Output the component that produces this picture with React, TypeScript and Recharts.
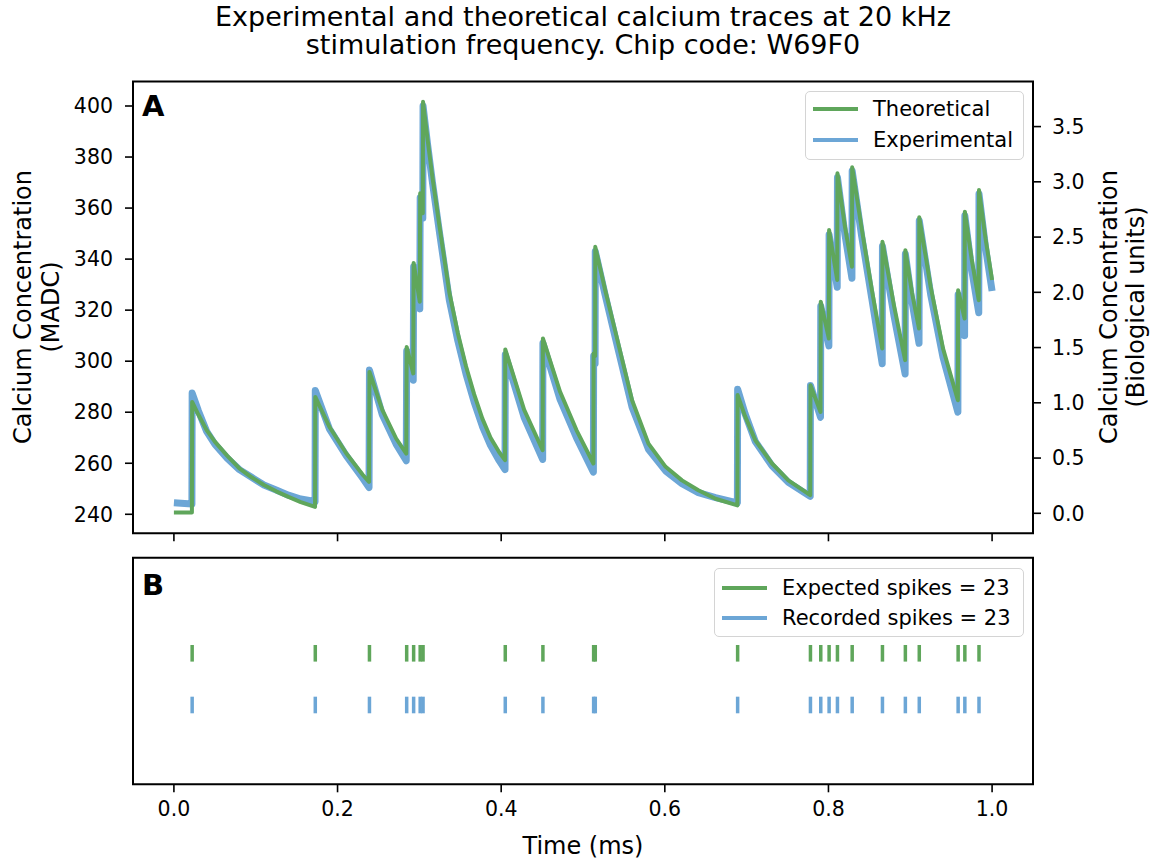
import { LineChart, Line, XAxis, YAxis, ReferenceArea, ScatterChart, Scatter } from 'recharts';

// calcium traces (time in ms, concentration in MADC)
const timePoints = [
  0, 0.022,
  0.0223, 0.03, 0.04, 0.05, 0.065, 0.08, 0.095, 0.11, 0.125, 0.14, 0.155, 0.1725,
  0.1728, 0.19, 0.2106, 0.231, 0.2385,
  0.239, 0.2547, 0.2716, 0.284,
  0.2845, 0.2925,
  0.293, 0.3005,
  0.301, 0.3042,
  0.3045, 0.31, 0.316, 0.325, 0.3366, 0.347, 0.357, 0.367, 0.377, 0.387, 0.3976, 0.4047,
  0.405, 0.428, 0.4507,
  0.451, 0.472, 0.492, 0.5127,
  0.513, 0.5148,
  0.515, 0.527, 0.54, 0.56, 0.58, 0.601, 0.621, 0.641, 0.662, 0.6887,
  0.689, 0.698, 0.7106, 0.731, 0.751, 0.7777,
  0.778, 0.7903,
  0.7906, 0.8005,
  0.8008, 0.8107,
  0.811, 0.82, 0.8287,
  0.829, 0.8406, 0.853, 0.8657,
  0.866, 0.88, 0.8937,
  0.894, 0.902, 0.9107,
  0.911, 0.925, 0.94, 0.9582,
  0.9585, 0.9664,
  0.9667, 0.975, 0.9837,
  0.984, 0.992, 1.0,
];

const theoretical = [
  240.7, 240.7,
  284.0, 279.0, 273.0, 268.5, 263.0, 258.0, 254.5, 251.5, 249.0, 246.8, 244.8, 242.9,
  286.0, 274.3, 263.9, 255.4, 252.7,
  295.8, 280.9, 269.7, 263.8,
  305.6, 295.2,
  338.5, 323.3,
  365.8, 358.0,
  401.7, 387.0, 372.0, 352.0, 327.0, 311.0, 298.0, 287.0, 277.5, 270.0, 264.3, 261.2,
  304.6, 281.0, 265.1,
  308.9, 288.0, 273.0, 259.9,
  303.0, 302.0,
  344.8, 328.0, 311.0, 284.7, 267.7, 258.6, 253.3, 249.4, 246.1, 243.5,
  286.7, 278.5, 269.0, 259.9, 253.3, 247.5,
  290.6, 280.1,
  323.3, 308.9,
  351.4, 331.8,
  373.6, 353.0, 337.0,
  376.0, 352.0, 328.0, 305.0,
  346.8, 322.0, 300.4,
  343.5, 327.0, 312.8,
  356.4, 329.0, 305.0, 284.7,
  327.8, 316.7,
  358.6, 340.0, 323.9,
  367.1, 348.0, 331.8,
];

const experimental = [
  244.5, 244.0,
  287.5, 280.5, 272.5, 267.5, 262.0, 257.5, 254.5, 251.5, 249.5, 247.5, 246.0, 245.0,
  288.5, 273.5, 263.0, 254.0, 250.5,
  296.5, 279.0, 267.5, 261.0,
  304.0, 292.5,
  337.0, 320.5,
  364.0, 356.0,
  400.0, 385.0, 370.0, 349.5, 324.0, 308.0, 295.0, 284.0, 274.5, 267.0, 261.0, 257.5,
  302.5, 278.0, 261.5,
  307.0, 285.0, 270.0, 256.5,
  302.0, 299.0,
  343.0, 326.0, 308.5, 282.0, 265.5, 257.0, 252.0, 248.5, 246.5, 244.5,
  289.0, 279.5, 268.5, 259.0, 252.5, 247.0,
  290.5, 278.0,
  321.5, 306.0,
  349.5, 329.0,
  372.0, 350.0, 332.5,
  374.5, 349.0, 324.5, 299.0,
  345.0, 318.0, 295.0,
  342.0, 323.5, 307.0,
  355.0, 326.0, 301.5, 280.0,
  326.0, 310.0,
  357.0, 336.0, 319.0,
  365.5, 344.5, 327.5,
];

// spike times (ms)
const expectedSpikes = [
  0.0223, 0.1728, 0.239, 0.2845, 0.293, 0.301, 0.3045, 0.405, 0.451, 0.513, 0.515, 0.689,
  0.778, 0.7906, 0.8008, 0.811, 0.829, 0.866, 0.894, 0.911, 0.9585, 0.9667, 0.984,
];
const recordedSpikes = [
  0.0223, 0.1728, 0.239, 0.2845, 0.293, 0.301, 0.3045, 0.405, 0.451, 0.513, 0.515, 0.689,
  0.778, 0.7906, 0.8008, 0.811, 0.829, 0.866, 0.894, 0.911, 0.9585, 0.9667, 0.984,
];

const timeTicks = [0, 0.2, 0.4, 0.6, 0.8, 1.0];
const madcTicks = [240, 260, 280, 300, 320, 340, 360, 380, 400];
const bioTicks = [0, 0.5, 1, 1.5, 2, 2.5, 3, 3.5];

const GREEN = '#5fa65b';
const BLUE = '#6ca6d6';
const FONT = '"DejaVu Sans", sans-serif';

const traceData = timePoints.map((t, i) => ({ t, theory: theoretical[i], exp: experimental[i] }));
const expectedData = expectedSpikes.map((t) => ({ t, y: 1 }));
const recordedData = recordedSpikes.map((t) => ({ t, y: 0 }));

const tickStyle = { fill: '#000', fontSize: 20.5, fontFamily: FONT };

const SpikeMark = (props: any) => {
  const { cx, cy, fill } = props;
  return <rect x={cx - 1.75} y={cy - 8.3} width={3.5} height={16.6} fill={fill} />;
};

const LegendBox = ({ left, top, width, rowH, padTop, items }: any) => (
  <div
    style={{
      position: 'absolute', left, top, width, height: 69, boxSizing: 'border-box',
      border: '1.5px solid #d4d4d4', borderRadius: 5, background: 'rgba(255,255,255,0.8)',
      paddingTop: padTop, fontFamily: FONT, fontSize: 21,
    }}
  >
    {items.map((it: any) => (
      <div key={it.label} style={{ display: 'flex', alignItems: 'center', height: rowH }}>
        <div style={{ width: 45, height: 4, background: it.color, marginLeft: 7, marginRight: 15 }} />
        <span>{it.label}</span>
      </div>
    ))}
  </div>
);

const AxisTitle = ({ cx, cy, lines, gap }: any) => (
  <div
    style={{
      position: 'absolute', left: cx - 200, top: cy - gap, width: 400, height: gap * 2,
      transform: 'rotate(-90deg)', textAlign: 'center', fontFamily: FONT, fontSize: 24,
      lineHeight: `${gap}px`,
    }}
  >
    {lines.map((l: string) => <div key={l}>{l}</div>)}
  </div>
);

const App = () => {
  return (
    <div style={{ position: 'absolute', left: 0, top: 0, width: 1157, height: 859, background: '#fff', overflow: 'hidden' }}>
      <div style={{ position: 'absolute', left: 183, top: 3, width: 800, textAlign: 'center', fontFamily: FONT, fontSize: 27, lineHeight: '28px' }}>
        Experimental and theoretical calcium traces at 20 kHz<br />
        stimulation frequency. Chip code: W69F0
      </div>

      <div style={{ position: 'absolute', left: 0, top: 0 }}>
        <LineChart width={1157} height={560} data={traceData} margin={{ top: 81.5, right: 0, left: 0, bottom: 0 }}>
          <XAxis dataKey="t" type="number" domain={[-0.05, 1.05]} ticks={timeTicks} height={26.7}
            axisLine={false} tickLine={{ stroke: '#000', strokeWidth: 1.6 }} tickSize={8}
            tickFormatter={() => ''} />
          <YAxis yAxisId="left" type="number" domain={[232.55, 409.6]} ticks={madcTicks} width={133}
            axisLine={false} tickLine={{ stroke: '#000', strokeWidth: 1.6 }} tickSize={8} tickMargin={12}
            tick={tickStyle} allowDataOverflow />
          <YAxis yAxisId="right" orientation="right" type="number" domain={[-0.181, 3.908]} ticks={bioTicks} width={124}
            axisLine={false} tickLine={{ stroke: '#000', strokeWidth: 1.6 }} tickSize={8} tickMargin={11}
            tick={tickStyle} tickFormatter={(v: number) => v.toFixed(1)} allowDataOverflow />
          <Line yAxisId="left" type="linear" dataKey="exp" stroke={BLUE} strokeWidth={7} dot={false}
            strokeLinejoin="round" isAnimationActive={false} />
          <Line yAxisId="left" type="linear" dataKey="theory" stroke={GREEN} strokeWidth={4} dot={false}
            strokeLinejoin="round" isAnimationActive={false} />
          <ReferenceArea yAxisId="left" x1={-0.05} x2={1.05} y1={232.55} y2={409.6} fill="none"
            stroke="#000" strokeWidth={2} ifOverflow="visible" />
        </LineChart>
      </div>

      <div style={{ position: 'absolute', left: 0, top: 540 }}>
        <ScatterChart width={1157} height={319} margin={{ top: 17.7, right: 124, left: 133, bottom: 0 }}>
          <XAxis dataKey="t" type="number" domain={[-0.05, 1.05]} ticks={timeTicks} height={74.7}
            axisLine={false} tickLine={{ stroke: '#000', strokeWidth: 1.6 }} tickSize={8} tickMargin={9}
            tick={tickStyle} tickFormatter={(v: number) => v.toFixed(1)}
            label={{ value: 'Time (ms)', position: 'insideBottom', offset: 5, fill: '#000', fontSize: 24, fontFamily: FONT }} />
          <YAxis dataKey="y" type="number" domain={[-1.534, 2.849]} hide />
          <Scatter data={expectedData} fill={GREEN} shape={SpikeMark} isAnimationActive={false} />
          <Scatter data={recordedData} fill={BLUE} shape={SpikeMark} isAnimationActive={false} />
          <ReferenceArea x1={-0.05} x2={1.05} y1={-1.534} y2={2.849} fill="none"
            stroke="#000" strokeWidth={2} ifOverflow="visible" />
        </ScatterChart>
      </div>

      <div style={{ position: 'absolute', left: 142, top: 92, fontFamily: FONT, fontWeight: 'bold', fontSize: 29, lineHeight: 1 }}>A</div>
      <div style={{ position: 'absolute', left: 142, top: 570.5, fontFamily: FONT, fontWeight: 'bold', fontSize: 29, lineHeight: 1 }}>B</div>

      <AxisTitle cx={37} cy={307} gap={28} lines={['Calcium Concentration', '(MADC)']} />
      <AxisTitle cx={1122.5} cy={307} gap={27} lines={['Calcium Concentration', '(Biological units)']} />

      <LegendBox left={805} top={91} width={219} rowH={31} padTop={1.8}
        items={[{ label: 'Theoretical', color: GREEN }, { label: 'Experimental', color: BLUE }]} />
      <LegendBox left={714} top={568} width={310} rowH={30} padTop={3.7}
        items={[{ label: 'Expected spikes = 23', color: GREEN }, { label: 'Recorded spikes = 23', color: BLUE }]} />
    </div>
  );
};

export default App;
